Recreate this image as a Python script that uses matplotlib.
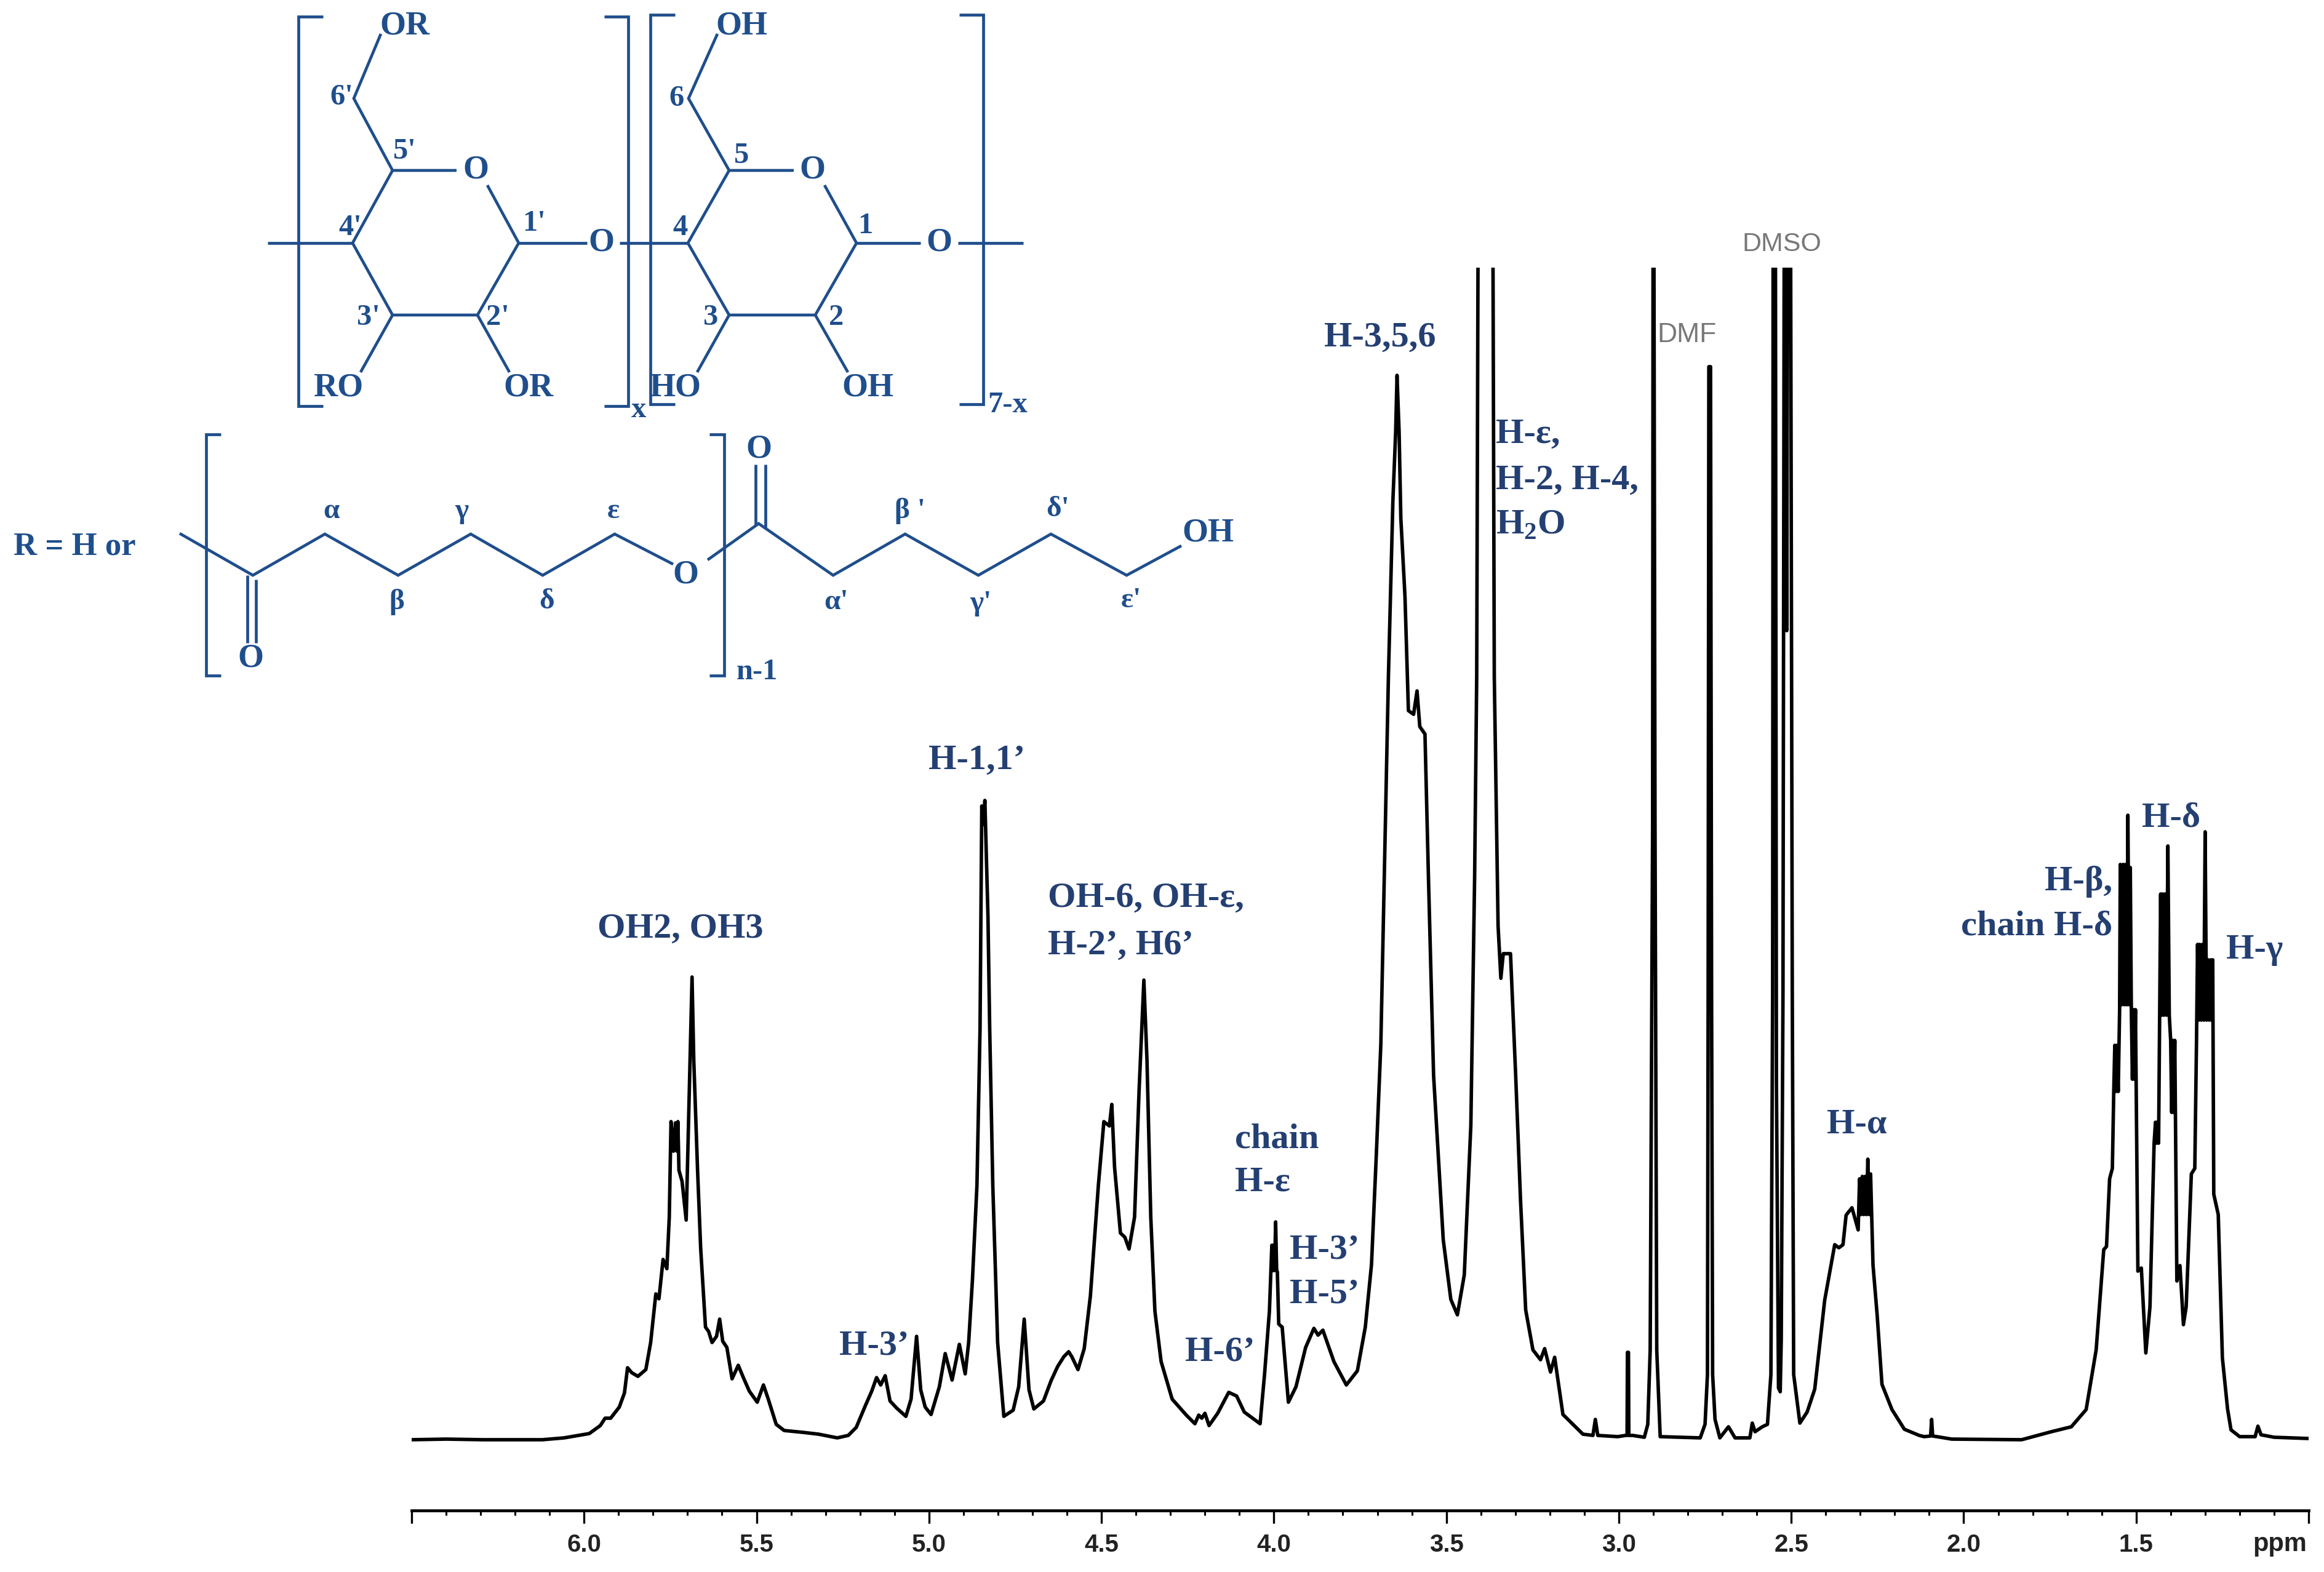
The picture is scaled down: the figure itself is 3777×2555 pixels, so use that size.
import numpy as np
import matplotlib
matplotlib.use('Agg')
import matplotlib.pyplot as plt

plt.rcParams['mathtext.fontset'] = 'custom'
plt.rcParams['mathtext.bf'] = 'Liberation Serif:bold'

# spectrum, ppm against height above baseline
ppm_oh = [6.50, 6.40, 6.293, 6.121, 6.058, 5.985, 5.953, 5.939, 5.923, 5.898, 5.883, 5.874, 5.862, 5.844, 5.821, 5.807, 5.792,
          5.783, 5.771, 5.760, 5.753, 5.748, 5.741, 5.735, 5.731, 5.728, 5.725, 5.716, 5.704, 5.695, 5.687, 5.682, 5.671,
          5.662, 5.648, 5.639, 5.629, 5.616, 5.607, 5.598, 5.586, 5.571, 5.553, 5.539, 5.521, 5.498, 5.480, 5.466, 5.443,
          5.420, 5.366, 5.320, 5.266]
int_oh = [0, 1, 0, 0, 3, 10, 23, 35, 35, 53, 76, 117, 109, 103, 114, 158, 237,
          229, 293, 278, 362, 517, 469, 515, 469, 517, 438, 420, 357, 566, 752, 617, 438,
          311, 183, 176, 158, 168, 196, 160, 150, 99, 121, 102, 79, 61, 89, 66, 25,
          15, 12, 9, 3]

ppm_h1 = [5.234, 5.211, 5.184, 5.166, 5.152, 5.140, 5.127, 5.113, 5.093, 5.067, 5.052, 5.036, 5.024, 5.011, 4.994, 4.970, 4.953,
          4.933, 4.912, 4.895, 4.885, 4.874, 4.861, 4.852, 4.847, 4.842, 4.838, 4.829, 4.824, 4.815, 4.801, 4.783, 4.756,
          4.740, 4.724, 4.710, 4.696, 4.668, 4.646]
int_h1 = [7, 20, 56, 79, 101, 89, 104, 63, 51, 38, 66, 168, 81, 53, 41, 86, 140,
          97, 155, 107, 158, 260, 413, 668, 1030, 1000, 1039, 850, 668, 413, 158, 38, 48,
          86, 196, 81, 50, 63, 96]

ppm_h2 = [4.627, 4.609, 4.595, 4.586, 4.568, 4.550, 4.532, 4.509, 4.493, 4.477, 4.470, 4.462, 4.445, 4.432, 4.420, 4.404, 4.391,
          4.377, 4.368, 4.357, 4.345, 4.327, 4.295, 4.254, 4.229, 4.218, 4.209, 4.200, 4.188, 4.163, 4.131, 4.108, 4.086,
          4.040, 4.027, 4.013, 4.006, 4.003, 4.001, 3.998, 3.995, 3.992, 3.990, 3.986, 3.976, 3.958, 3.936, 3.908, 3.884,
          3.872, 3.858, 3.826, 3.790, 3.758, 3.735, 3.717]
int_h2 = [119, 135, 143, 135, 114, 148, 234, 413, 517, 510, 545, 443, 336, 329, 310, 362, 566,
          747, 617, 362, 209, 127, 66, 40, 26, 40, 35, 43, 23, 43, 77, 71, 45,
          26, 107, 209, 316, 275, 316, 275, 354, 275, 273, 188, 183, 61, 86, 150, 181,
          170, 178, 127, 89, 112, 183, 285]

ppm_h3 = [3.703, 3.690, 3.668, 3.655, 3.647, 3.643, 3.637, 3.632, 3.620, 3.610, 3.595, 3.585, 3.577, 3.562, 3.552, 3.537, 3.509,
          3.487, 3.468, 3.448, 3.429, 3.418, 3.412, 3.405, 3.368, 3.361, 3.350, 3.342, 3.335, 3.314, 3.299, 3.285, 3.270,
          3.249, 3.227, 3.215, 3.198, 3.186, 3.162, 3.104, 3.075, 3.068, 3.061]
int_h3 = [464, 642, 1240, 1526, 1638, 1730, 1638, 1498, 1371, 1185, 1179, 1217, 1159, 1147, 916, 592, 325,
          228, 203, 268, 511, 916, 1240, 2500, 2500, 1240, 835, 750, 790, 790, 592, 390, 211,
          146, 130, 148, 110, 134, 41, 9, 7, 33, 7]

ppm_solv = [3.003, 2.980, 2.976, 2.975, 2.972, 2.971, 2.960, 2.926, 2.916, 2.909, 2.902, 2.900, 2.895, 2.890, 2.880, 2.764, 2.750,
            2.743, 2.741, 2.739, 2.734, 2.731, 2.728, 2.721, 2.707, 2.682, 2.663, 2.620, 2.613, 2.605, 2.584, 2.569, 2.559,
            2.554, 2.552, 2.547, 2.543, 2.537, 2.532, 2.529, 2.524, 2.519, 2.513, 2.509, 2.504, 2.497, 2.493, 2.475]
int_solv = [5, 7, 7, 142, 142, 7, 7, 4, 25, 146, 997, 2500, 997, 146, 5, 3, 25,
            106, 724, 1744, 1744, 724, 106, 33, 3, 21, 3, 3, 27, 13, 21, 25, 106,
            724, 2500, 2500, 584, 84, 78, 163, 724, 2500, 1315, 2500, 2500, 724, 106, 27]

ppm_alpha = [2.454, 2.432, 2.403, 2.374, 2.362, 2.350, 2.341, 2.324, 2.306, 2.302, 2.298, 2.294, 2.290, 2.286, 2.282, 2.278, 2.274,
             2.270, 2.263, 2.251, 2.237, 2.208, 2.172, 2.129, 2.115, 2.096, 2.093, 2.090, 2.078, 2.035, 1.832]
int_alpha = [45, 82, 227, 317, 312, 317, 365, 377, 341, 424, 366, 428, 366, 428, 366, 456, 366,
             432, 284, 203, 90, 49, 17, 7, 5, 6, 33, 6, 5, 1, 0]

ppm_pcl = [1.746, 1.688, 1.645, 1.616, 1.594, 1.586, 1.577, 1.569, 1.565, 1.562, 1.559, 1.556, 1.552, 1.548, 1.546, 1.542, 1.538,
           1.534, 1.531, 1.527, 1.524, 1.520, 1.517, 1.514, 1.511, 1.508, 1.505, 1.502, 1.495, 1.485, 1.472, 1.460, 1.448,
           1.444, 1.441, 1.438, 1.435, 1.432, 1.429, 1.426, 1.423, 1.420, 1.416, 1.412, 1.408, 1.404, 1.400, 1.397, 1.394,
           1.391, 1.388, 1.382, 1.373, 1.363, 1.355, 1.340, 1.330, 1.325, 1.322, 1.319, 1.316, 1.312, 1.308, 1.304, 1.300,
           1.296, 1.292, 1.288, 1.284, 1.281, 1.278, 1.275, 1.262, 1.250, 1.235, 1.225, 1.200, 1.155, 1.147, 1.138, 1.100,
           1.001]
int_pcl = [13, 21, 49, 146, 309, 314, 424, 441, 566, 641, 566, 641, 566, 699, 935, 707, 935,
           707, 935, 707, 1015, 707, 930, 699, 586, 699, 586, 699, 274, 279, 141, 216, 482,
           516, 482, 516, 482, 690, 887, 690, 887, 690, 887, 690, 965, 690, 649, 532, 649,
           532, 649, 258, 283, 187, 216, 432, 441, 650, 805, 682, 805, 682, 805, 682, 988,
           682, 780, 682, 780, 682, 780, 399, 366, 133, 50, 16, 5, 5, 22, 8, 4,
           2]

ppm = np.array(ppm_oh + ppm_h1 + ppm_h2 + ppm_h3 + ppm_solv + ppm_alpha + ppm_pcl)
intensity = np.array(int_oh + int_h1 + int_h2 + int_h3 + int_solv + int_alpha + int_pcl)

tick_major = [6.5, 6.0, 5.5, 5.0, 4.5, 4.0, 3.5, 3.0, 2.5, 2.0, 1.5, 1.0]
tick_labels = ['', '6.0', '5.5', '5.0', '4.5', '4.0', '3.5', '3.0', '2.5', '2.0', '1.5', '']
tick_minor = [round(6.5 - 0.1 * i, 1) for i in range(56)]

W, H = 3777, 2555
azul = '#1f4e8c'
navy = '#243f72'
cinza = '#787878'
serif = 'Liberation Serif'

fig = plt.figure(figsize=(W / 100, H / 100), dpi=100)

# eixo do espectro: 669-3752 px, topo em 435 px, linha base em 2340 px
ax = fig.add_axes([669 / W, 1 - 2455 / H, (3752 - 669) / W, (2455 - 435) / H])
ax.plot(ppm, intensity, color='black', lw=4.1, solid_joinstyle='round')
ax.set_xlim(6.5, 1.0)
ax.set_ylim(-115, 1905)
for lado in ['top', 'left', 'right']:
    ax.spines[lado].set_visible(False)
ax.spines['bottom'].set_linewidth(3.4)
ax.set_yticks([])
ax.set_xticks(tick_major)
ax.set_xticks(tick_minor, minor=True)
ax.set_xticklabels(tick_labels, fontfamily='Liberation Sans', fontweight='bold', fontsize=29, color='#222222')
ax.tick_params(axis='x', which='major', length=15, width=2.4, pad=12)
ax.tick_params(axis='x', which='minor', length=6, width=2.2)
ax.patch.set_alpha(0)

# camada em pixels para a estrutura e os rotulos
ov = fig.add_axes([0, 0, 1, 1])
ov.set_xlim(0, W)
ov.set_ylim(H, 0)
ov.axis('off')


def linha(pontos, cor=azul, lw=3.4):
    xs = [p[0] for p in pontos]
    ys = [p[1] for p in pontos]
    ov.plot(xs, ys, color=cor, lw=lw, solid_capstyle='butt', solid_joinstyle='miter')


def colchete(x, ponta, topo, base):
    linha([(ponta, topo), (x, topo), (x, base), (ponta, base)])


def rotulo(x, y, texto, size=36, cor=azul, ha='center', family=serif, weight='bold'):
    ov.text(x, y, texto, fontsize=size, color=cor, ha=ha, va='center', family=family, fontweight=weight)


# aneis
linha([(619, 55), (575, 160), (638, 277), (742, 277)])
linha([(792, 301), (843, 395), (776, 512), (638, 512), (573, 395), (638, 277)])
linha([(435, 395), (573, 395)])
linha([(843, 395), (954, 395)])
linha([(1007, 395), (1118, 395)])
linha([(638, 512), (586, 605)])
linha([(776, 512), (828, 605)])
linha([(1166, 55), (1119, 160), (1185, 277), (1290, 277)])
linha([(1340, 301), (1392, 395), (1325, 512), (1185, 512), (1118, 395), (1185, 277)])
linha([(1392, 395), (1496, 395)])
linha([(1557, 395), (1663, 395)])
linha([(1185, 512), (1133, 605)])
linha([(1325, 512), (1378, 605)])
colchete(485, 525, 27, 660)
colchete(1021, 982, 27, 660)
colchete(1057, 1097, 24, 657)
colchete(1598, 1559, 24, 657)

# cadeia
linha([(292, 867), (411, 935), (528, 868), (647, 935), (765, 868), (882, 935), (999, 868), (1094, 917)])
linha([(1150, 910), (1233, 851), (1354, 935), (1471, 868), (1590, 935), (1708, 868), (1831, 935), (1920, 887)])
linha([(402, 935), (402, 1045)])
linha([(416, 942), (416, 1045)])
linha([(1228, 854), (1228, 755)])
linha([(1244, 860), (1244, 755)])
colchete(335, 359, 706, 1098)
colchete(1177, 1153, 706, 1098)

# texto da estrutura
for x, y, t in [(658, 43, 'OR'), (773, 277, 'O'), (977, 395, 'O'), (550, 630, 'RO'), (859, 630, 'OR'),
                (1205, 43, 'OH'), (1320, 277, 'O'), (1526, 395, 'O'), (1097, 630, 'HO'), (1410, 630, 'OH'),
                (1114, 935, 'O'), (407, 1071, 'O'), (1233, 731, 'O'), (1963, 867, 'OH')]:
    rotulo(x, y, t, 39)
for x, y, t in [(555, 158, "6'"), (658, 246, "5'"), (569, 370, "4'"), (868, 363, "1'"), (599, 516, "3'"), (809, 516, "2'"),
                (1099, 160, '6'), (1205, 253, '5'), (1105, 370, '4'), (1406, 367, '1'), (1155, 516, '3'), (1359, 516, '2')]:
    rotulo(x, y, t, 35)
for x, y, t in [(538, 831, 'α'), (645, 979, 'β'), (750, 831, 'γ'), (889, 978, 'δ'), (997, 831, 'ε'),
                (1359, 979, "α'"), (1479, 831, "β '"), (1594, 981, "γ'"), (1719, 828, "δ'"), (1838, 976, "ε'")]:
    rotulo(x, y, t, 34)
rotulo(1038, 666, 'x', 35)
rotulo(1638, 658, '7-x', 35)
rotulo(1230, 1092, 'n-1', 35)
rotulo(22, 889, 'R = H or', 38, ha='left')

# rotulos do espectro
rotulo(1106, 1510, 'OH2, OH3', 42, navy)
rotulo(1588, 1236, 'H-1,1’', 42, navy)
rotulo(1703, 1460, 'OH-6, OH-ε,', 42, navy, ha='left')
rotulo(1703, 1537, 'H-2’, H6’', 42, navy, ha='left')
rotulo(2243, 549, 'H-3,5,6', 42, navy)
rotulo(2431, 706, 'H-ε,', 42, navy, ha='left')
rotulo(2431, 781, 'H-2, H-4,', 42, navy, ha='left')
rotulo(2431, 853, r'H$_{\mathbf{2}}$O', 42, navy, ha='left')
rotulo(2007, 1852, 'chain', 42, navy, ha='left')
rotulo(2007, 1922, 'H-ε', 42, navy, ha='left')
rotulo(2096, 2031, 'H-3’', 42, navy, ha='left')
rotulo(2096, 2103, 'H-5’', 42, navy, ha='left')
rotulo(1421, 2187, 'H-3’', 42, navy)
rotulo(1983, 2197, 'H-6’', 42, navy)
rotulo(3018, 1828, 'H-α', 42, navy)
rotulo(3529, 1330, 'H-δ', 42, navy)
rotulo(3433, 1433, 'H-β,', 42, navy, ha='right')
rotulo(3433, 1506, 'chain H-δ', 42, navy, ha='right')
rotulo(3664, 1544, 'H-γ', 42, navy)
rotulo(2741, 544, 'DMF', 32, cinza, family='Liberation Sans', weight='normal')
rotulo(2896, 397, 'DMSO', 31, cinza, family='Liberation Sans', weight='normal')
rotulo(3705, 2510, 'ppm', 30, '#222222', family='Liberation Sans')

fig.savefig('out.png', dpi=100)
